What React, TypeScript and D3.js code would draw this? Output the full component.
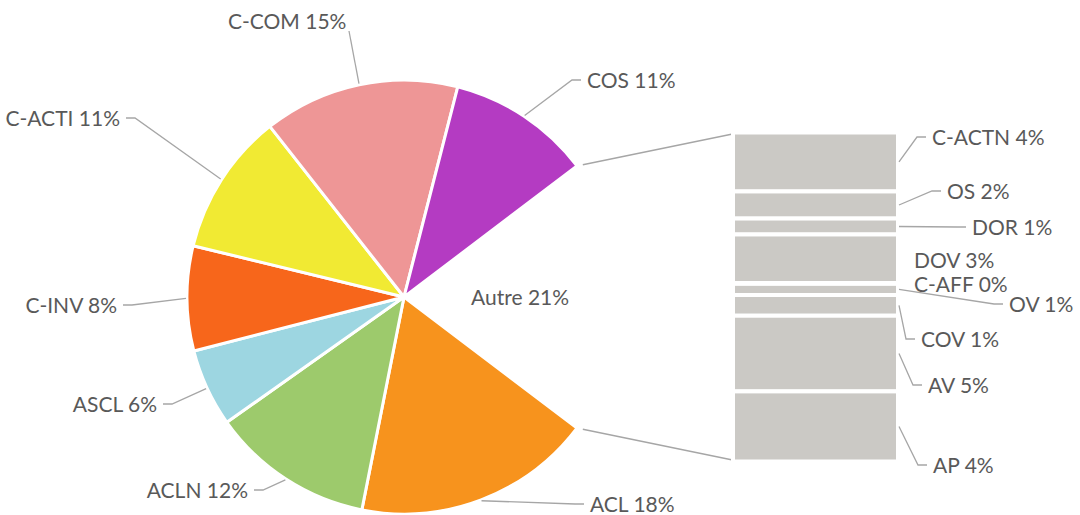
import React from 'react';
import * as d3 from 'd3';

// pie slices, clockwise from the "Autre" gap (values in %)
const pieNames = ['ACL', 'ACLN', 'ASCL', 'C-INV', 'C-ACTI', 'C-COM', 'COS'];
const pieValues = [17.8, 12.1, 5.8, 7.8, 10.6, 14.6, 10.7];
const pieColors = ['#F7931D', '#9DCA6C', '#9DD6E1', '#F7661B', '#F1EA33', '#EE9696', '#B43BC2'];

// bar stack (the "Autre" part), top to bottom
const barNames = ['C-ACTN', 'OS', 'DOR', 'DOV', 'C-AFF', 'OV', 'COV', 'AV', 'AP'];
const barValues = [3.7, 1.7, 1.0, 3.05, 0.05, 0.7, 1.3, 4.75, 4.4];

// label placement: text x, text center y, anchor, optional leader end
type Lbl = { x: number; y: number; anchor: 'start' | 'end'; end?: [number, number]; noLeader?: boolean };
const pieLabels: Lbl[] = [
  { x: 590, y: 504, anchor: 'start' },
  { x: 248, y: 490, anchor: 'end' },
  { x: 157, y: 404, anchor: 'end' },
  { x: 117, y: 305, anchor: 'end' },
  { x: 120, y: 118, anchor: 'end' },
  { x: 228, y: 21, anchor: 'start', end: [349, 31] },
  { x: 587, y: 80, anchor: 'start' },
];
const barLabels: Lbl[] = [
  { x: 932, y: 137, anchor: 'start' },
  { x: 947, y: 191, anchor: 'start' },
  { x: 972, y: 227, anchor: 'start' },
  { x: 914, y: 260, anchor: 'start', noLeader: true },
  { x: 914, y: 284, anchor: 'start', noLeader: true },
  { x: 1009, y: 304, anchor: 'start' },
  { x: 921, y: 339, anchor: 'start' },
  { x: 928, y: 385, anchor: 'start' },
  { x: 933, y: 465, anchor: 'start' },
];

const width = 1080;
const height = 515;
const cx = 404;
const cy = 297;
const r = 217;
const barX0 = 733;
const barX1 = 898;
const barH = 329;
const lineColor = '#A6A6A6';
const textColor = '#595959';

function leaderPath(start: [number, number], l: Lbl) {
  if (l.end) return `M${start[0]},${start[1]}L${l.end[0]},${l.end[1]}`;
  const dir = l.anchor === 'start' ? -1 : 1;
  const ex = l.x + dir * 6;
  const elx = l.x + dir * 15;
  return `M${start[0]},${start[1]}L${elx},${l.y}L${ex},${l.y}`;
}

export default function App() {
  const autre = d3.sum(barValues);
  const total = d3.sum(pieValues) + autre;
  const allValues = [autre, ...pieValues];
  const autreSpan = (autre / total) * Math.PI * 2;
  const start = Math.PI / 2 - autreSpan / 2;

  const pie = d3.pie<number>().sort(null).startAngle(start).endAngle(start + Math.PI * 2);
  const arcs = pie(allValues);
  const arc = d3.arc<d3.PieArcDatum<number>>().innerRadius(0).outerRadius(r);
  const pct = (v: number) => `${Math.round((v / total) * 100)}%`;

  const pt = (a: number, rad: number): [number, number] => [cx + rad * Math.sin(a), cy - rad * Math.cos(a)];

  const barTop = cy - barH / 2;
  const y = d3.scaleLinear().domain([0, autre]).range([barTop, barTop + barH]);
  const cum = d3.cumsum(barValues);

  const a0 = arcs[0].startAngle;
  const a1 = arcs[0].endAngle;
  const connect = (a: number, corner: [number, number]) => {
    const p = pt(a, r);
    const dx = corner[0] - p[0];
    const dy = corner[1] - p[1];
    const len = Math.hypot(dx, dy);
    const s: [number, number] = [p[0] + (dx / len) * 6, p[1] + (dy / len) * 6];
    return `M${s[0]},${s[1]}L${corner[0]},${corner[1]}`;
  };
  const autreMid = (a0 + a1) / 2;
  const autrePos = pt(autreMid, r * 0.535);

  return (
    <svg width={width} height={height} style={{ position: 'absolute', left: 0, top: 0, background: '#fff' }}
      fontFamily="Lato, 'Open Sans', sans-serif" fontSize={21}>
      <g>
        {arcs.slice(1).map((d, i) => (
          <path key={pieNames[i]} d={arc(d) || ''} transform={`translate(${cx},${cy})`}
            fill={pieColors[i]} stroke="#fff" strokeWidth={3} strokeLinejoin="round" />
        ))}
      </g>
      <g fill="none" stroke={lineColor} strokeWidth={1.3}>
        <path d={connect(a0, [barX0 + 2, barTop + 1])} />
        <path d={connect(a1, [barX0 + 2, barTop + barH - 1])} />
      </g>
      <g>
        {barValues.map((v, i) => (
          <rect key={barNames[i]} x={barX0} width={barX1 - barX0}
            y={y(cum[i] - v)} height={y(cum[i]) - y(cum[i] - v)}
            fill="#CBC9C5" stroke="#fff" strokeWidth={4} />
        ))}
      </g>
      <g fill="none" stroke={lineColor} strokeWidth={1.3}>
        {arcs.slice(1).map((d, i) => (
          <path key={pieNames[i]} d={leaderPath(pt((d.startAngle + d.endAngle) / 2, r + 1), pieLabels[i])} />
        ))}
        {barValues.map((v, i) => barLabels[i].noLeader ? null : (
          <path key={barNames[i]} d={leaderPath([barX1 + 1, (y(cum[i] - v) + y(cum[i])) / 2], barLabels[i])} />
        ))}
      </g>
      <g fill={textColor}>
        {pieValues.map((v, i) => (
          <text key={pieNames[i]} x={pieLabels[i].x} y={pieLabels[i].y} dy="0.36em" textAnchor={pieLabels[i].anchor}>
            {`${pieNames[i]} ${pct(v)}`}
          </text>
        ))}
        {barValues.map((v, i) => (
          <text key={barNames[i]} x={barLabels[i].x} y={barLabels[i].y} dy="0.36em" textAnchor={barLabels[i].anchor}>
            {`${barNames[i]} ${pct(v)}`}
          </text>
        ))}
        <text x={autrePos[0]} y={autrePos[1]} dy="0.36em" textAnchor="middle">{`Autre ${pct(autre)}`}</text>
      </g>
    </svg>
  );
}
